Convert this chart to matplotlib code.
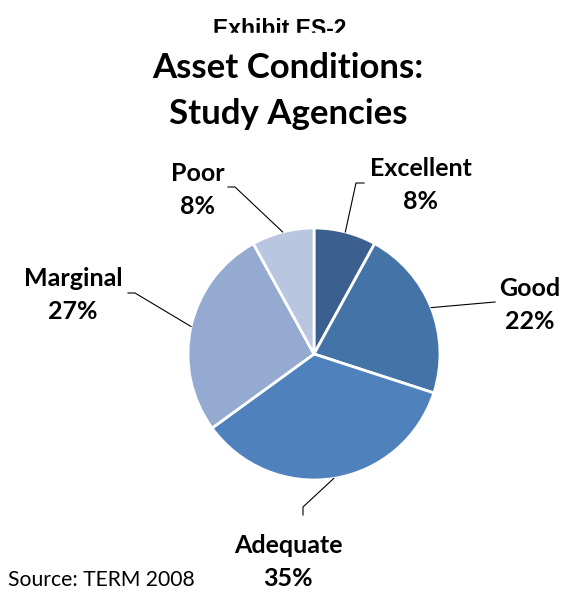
import matplotlib
matplotlib.use("Agg")
import matplotlib.pyplot as plt
from matplotlib.patches import Rectangle
import numpy as np

# asset condition shares (percent), clockwise from 12 o'clock
categories = ["Excellent", "Good", "Adequate", "Marginal", "Poor"]
shares = [8, 22, 35, 27, 8]
colors = ["#3b5f8e", "#4473a8", "#4f81bd", "#94aad0", "#b9c6e0"]

W, H = 569, 592
fig = plt.figure(figsize=(W / 100, H / 100), dpi=100)
ax = fig.add_axes([0, 0, 1, 1])

cx, cy, r = 314, H - 354, 126
wedges, _ = ax.pie(shares, colors=colors, startangle=90, counterclock=False,
                   center=(cx, cy), radius=r, frame=True,
                   wedgeprops=dict(edgecolor="white", linewidth=2))
ax.set_xlim(0, W)
ax.set_ylim(0, H)
ax.axis("off")

font = "Lato"

# label placement (pixels from top-left) and leader-line bends
label_pos = {
    "Excellent": (421, 185),
    "Good": (530, 305),
    "Adequate": (288, 562),
    "Marginal": (73, 295),
    "Poor": (198, 190),
}
leader_bend = {
    "Excellent": [(356, 183), (364, 183)],
    "Good": [(495, 302)],
    "Adequate": [(303, 507), (303, 515)],
    "Marginal": [(135, 293), (128, 293)],
    "Poor": [(235, 187), (228, 187)],
}

for w, cat, val in zip(wedges, categories, shares):
    mid = np.deg2rad((w.theta1 + w.theta2) / 2)
    x0 = cx + r * np.cos(mid)
    y0 = cy + r * np.sin(mid)
    pts = [(x0, y0)] + [(px, H - py) for px, py in leader_bend[cat]]
    ax.plot([p[0] for p in pts], [p[1] for p in pts], color="black", lw=0.8)
    lx, ly = label_pos[cat]
    ax.text(lx, H - ly, f"{cat}\n{val}%", ha="center", va="center",
            fontsize=18, fontweight="bold", family=font, linespacing=1.48)

# top heading is cut off at the bottom in the original
ax.text(280, H - 29, "Exhibit ES-2", ha="center", va="center", fontsize=16.5,
        fontweight="bold", family="Liberation Sans")
ax.add_patch(Rectangle((0, H - 48), W, 15, color="white", zorder=5))
ax.text(288, H - 68, "Asset Conditions:", ha="center", va="center",
        fontsize=25, fontweight="bold", family=font, zorder=6)
ax.text(288, H - 114, "Study Agencies", ha="center", va="center",
        fontsize=25, fontweight="bold", family=font, zorder=6)

ax.text(8, H - 580, "Source: TERM 2008", ha="left", va="center",
        fontsize=15.2, family=font)

fig.savefig("out.png", dpi=100)
